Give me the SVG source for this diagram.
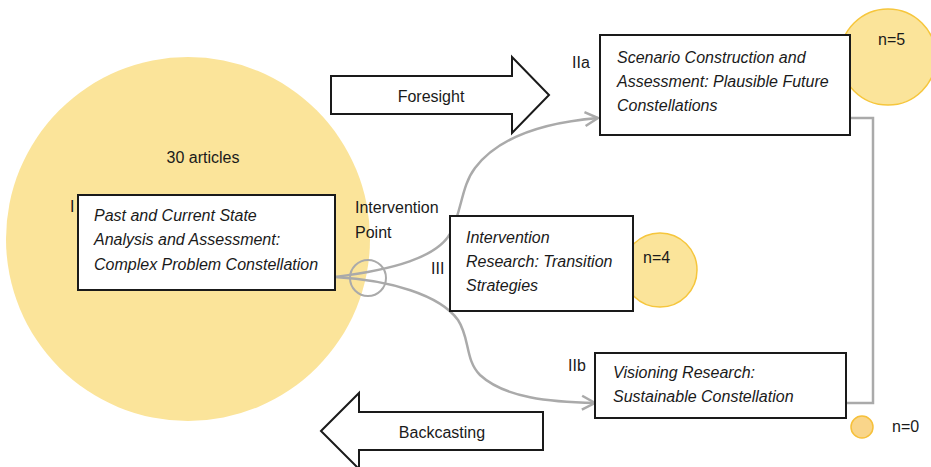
<svg xmlns="http://www.w3.org/2000/svg" width="931" height="467" viewBox="0 0 931 467">
<defs>
<style>
.t{font-family:"Liberation Sans",Arial,sans-serif;font-size:16px;fill:#1a1a1a}
.it{font-style:italic}
.box{fill:#fff;stroke:#1a1a1a;stroke-width:2}
.blob{fill:#fbe49a;stroke:#f6c63c;stroke-width:1.5}
.conn{fill:none;stroke:#aaaaaa;stroke-width:2.5}
.big{fill:#fff;stroke:#1a1a1a;stroke-width:2;stroke-linejoin:miter}
</style>
<marker id="ah" viewBox="0 0 14 14" refX="13" refY="7" markerWidth="14" markerHeight="14" markerUnits="userSpaceOnUse" orient="auto" overflow="visible">
<path d="M0,0 L13,7 L0,14" fill="none" stroke="#aaaaaa" stroke-width="2.5"/>
</marker>
</defs>
<rect width="931" height="467" fill="#fff"/>

<g id="big-circle">
<circle cx="188" cy="239" r="182" fill="#fbe49a"/>
<text class="t" x="203" y="163" text-anchor="middle">30 articles</text>
</g>

<g id="n5-circle">
<circle class="blob" cx="888" cy="57" r="48"/>
</g>
<g id="n4-circle">
<circle class="blob" cx="660" cy="270" r="37"/>
</g>

<g id="connectors">
<path class="conn" d="M335,277 C390,270 440,258 452,230 C462,208 462,185 475,168 C500,135 550,122 598,118" marker-end="url(#ah)"/>
<path class="conn" d="M335,277 C390,280 440,295 458,320 C470,338 465,360 480,375 C505,398 550,402 595,403" marker-end="url(#ah)"/>
<polyline class="conn" points="850,118 873,118 873,403 846,403"/>
<circle cx="368" cy="278" r="18" fill="none" stroke="#aaaaaa" stroke-width="2"/>
</g>

<g id="foresight">
<polygon class="big" points="331,76 512,76 512,57 549,95 512,133 512,114 331,114"/>
<text class="t" x="431" y="102" text-anchor="middle">Foresight</text>
</g>

<g id="backcasting">
<polygon class="big" points="321,431 359,393 359,412 543,412 543,450 359,450 359,469"/>
<text class="t" x="442" y="438" text-anchor="middle">Backcasting</text>
</g>

<g id="node-I">
<rect class="box" x="78" y="195" width="257" height="95"/>
<text class="t" x="70" y="212">I</text>
<text class="t it" x="94" y="221">Past and Current State</text>
<text class="t it" x="94" y="245">Analysis and Assessment:</text>
<text class="t it" x="94" y="270">Complex Problem Constellation</text>
</g>

<g id="intervention-label">
<text class="t" x="355" y="213">Intervention</text>
<text class="t" x="355" y="238">Point</text>
</g>

<g id="node-III">
<rect class="box" x="450" y="216" width="183" height="95"/>
<text class="t" x="431" y="274">III</text>
<text class="t it" x="466" y="243">Intervention</text>
<text class="t it" x="466" y="267">Research: Transition</text>
<text class="t it" x="466" y="291">Strategies</text>
<text class="t" x="643" y="263">n=4</text>
</g>

<g id="node-IIa">
<rect class="box" x="600" y="35" width="250" height="100"/>
<text class="t" x="572" y="68">IIa</text>
<text class="t it" x="617" y="63">Scenario Construction and</text>
<text class="t it" x="617" y="87">Assessment: Plausible Future</text>
<text class="t it" x="617" y="111">Constellations</text>
<text class="t" x="878" y="45">n=5</text>
</g>

<g id="node-IIb">
<rect class="box" x="595" y="353" width="251" height="65"/>
<text class="t" x="568" y="371">IIb</text>
<text class="t it" x="613" y="378">Visioning Research:</text>
<text class="t it" x="613" y="402">Sustainable Constellation</text>
</g>

<g id="n0">
<circle cx="862" cy="427" r="11" fill="#f9d58a" stroke="#f6c03a" stroke-width="1.5"/>
<text class="t" x="892" y="432">n=0</text>
</g>
</svg>
